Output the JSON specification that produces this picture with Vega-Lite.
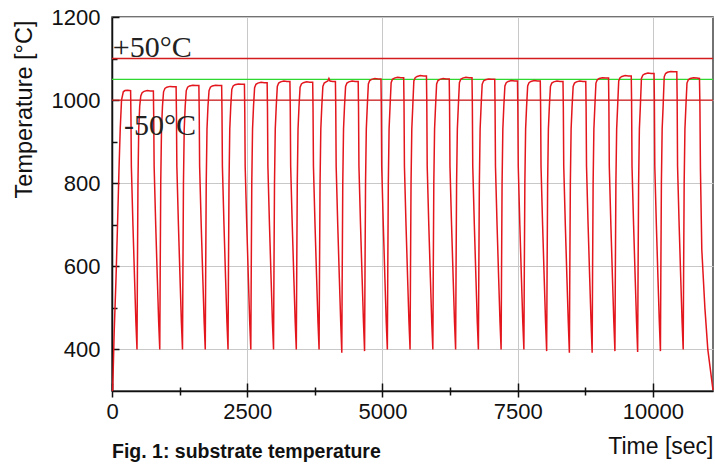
{
  "$schema": "https://vega.github.io/schema/vega-lite/v6.json",
  "width": 601,
  "height": 374,
  "autosize": {"type": "none"},
  "padding": {"left": 112, "top": 17, "right": 2, "bottom": 75},
  "background": "white",
  "config": {
    "view": {"stroke": "#444", "strokeWidth": 1.5},
    "font": "Liberation Sans"
  },
  "title": {
    "text": "Fig. 1: substrate temperature",
    "orient": "bottom",
    "anchor": "start",
    "frame": "group",
    "font": "Liberation Sans",
    "fontSize": 19.5,
    "fontWeight": "bold",
    "color": "#111",
    "offset": -15
  },
  "datasets": {
    "refs": [
      {"T": 1100, "kind": "limit"},
      {"T": 1000, "kind": "limit"},
      {"T": 1050, "kind": "target"}
    ],
    "labels": [
      {"t": 15, "T": 1104, "label": "+50°C"},
      {"t": 220, "T": 916, "label": "-50°C"}
    ],
    "temp": [
      {"t":5,"T":300},{"t":13,"T":302},{"t":40,"T":440},{"t":74,"T":570},{"t":100,"T":690},{"t":129,"T":832},{"t":152,"T":930},{"t":176,"T":1000},{"t":209,"T":1020},{"t":240,"T":1023},{"t":290,"T":1024},{"t":344,"T":1023},{"t":350,"T":963},{"t":358,"T":840},{"t":387,"T":700},{"t":417,"T":570},{"t":442,"T":465},{"t":462,"T":400},
      {"t":470,"T":590},{"t":480,"T":800},{"t":494,"T":930},{"t":512,"T":985},{"t":532,"T":1010},{"t":557,"T":1018},{"t":592,"T":1021},{"t":652,"T":1023},{"t":712,"T":1022},{"t":765,"T":1022},{"t":771,"T":962},{"t":779,"T":840},{"t":808,"T":700},{"t":838,"T":570},{"t":863,"T":465},{"t":883,"T":400},
      {"t":891,"T":590},{"t":901,"T":800},{"t":915,"T":930},{"t":933,"T":985},{"t":953,"T":1020},{"t":978,"T":1028},{"t":1013,"T":1031},{"t":1073,"T":1033},{"t":1133,"T":1032},{"t":1185,"T":1032},{"t":1191,"T":972},{"t":1199,"T":840},{"t":1228,"T":700},{"t":1258,"T":570},{"t":1283,"T":465},{"t":1303,"T":400},
      {"t":1311,"T":590},{"t":1321,"T":800},{"t":1335,"T":930},{"t":1353,"T":985},{"t":1373,"T":1023},{"t":1398,"T":1031},{"t":1433,"T":1034},{"t":1493,"T":1036},{"t":1553,"T":1035},{"t":1606,"T":1035},{"t":1612,"T":975},{"t":1620,"T":840},{"t":1649,"T":700},{"t":1679,"T":570},{"t":1704,"T":465},{"t":1724,"T":400},
      {"t":1732,"T":590},{"t":1742,"T":800},{"t":1756,"T":930},{"t":1774,"T":985},{"t":1794,"T":1023},{"t":1819,"T":1031},{"t":1854,"T":1034},{"t":1914,"T":1036},{"t":1974,"T":1035},{"t":2027,"T":1035},{"t":2033,"T":975},{"t":2041,"T":840},{"t":2070,"T":700},{"t":2100,"T":570},{"t":2125,"T":465},{"t":2145,"T":400},
      {"t":2153,"T":590},{"t":2163,"T":800},{"t":2177,"T":930},{"t":2195,"T":985},{"t":2215,"T":1026},{"t":2240,"T":1034},{"t":2275,"T":1037},{"t":2335,"T":1039},{"t":2395,"T":1038},{"t":2448,"T":1038},{"t":2454,"T":978},{"t":2462,"T":840},{"t":2491,"T":700},{"t":2521,"T":570},{"t":2546,"T":465},{"t":2566,"T":400},
      {"t":2574,"T":590},{"t":2584,"T":800},{"t":2598,"T":930},{"t":2616,"T":985},{"t":2636,"T":1030},{"t":2661,"T":1038},{"t":2696,"T":1041},{"t":2756,"T":1043},{"t":2816,"T":1042},{"t":2868,"T":1042},{"t":2874,"T":982},{"t":2882,"T":840},{"t":2911,"T":700},{"t":2941,"T":570},{"t":2966,"T":465},{"t":2986,"T":400},
      {"t":2994,"T":590},{"t":3004,"T":800},{"t":3018,"T":930},{"t":3036,"T":985},{"t":3056,"T":1033},{"t":3081,"T":1041},{"t":3116,"T":1044},{"t":3176,"T":1046},{"t":3236,"T":1045},{"t":3289,"T":1045},{"t":3295,"T":985},{"t":3303,"T":840},{"t":3332,"T":700},{"t":3362,"T":570},{"t":3387,"T":465},{"t":3407,"T":400},
      {"t":3415,"T":590},{"t":3425,"T":800},{"t":3439,"T":930},{"t":3457,"T":985},{"t":3477,"T":1031},{"t":3502,"T":1039},{"t":3537,"T":1042},{"t":3597,"T":1044},{"t":3657,"T":1043},{"t":3710,"T":1043},{"t":3716,"T":983},{"t":3724,"T":840},{"t":3753,"T":700},{"t":3783,"T":570},{"t":3808,"T":465},{"t":3828,"T":400},
      {"t":3836,"T":590},{"t":3846,"T":800},{"t":3860,"T":930},{"t":3878,"T":985},{"t":3898,"T":1033},{"t":3923,"T":1041},{"t":3958,"T":1044},{"t":3990,"T":1046},{"t":4010,"T":1052},{"t":4030,"T":1046},{"t":4080,"T":1045},{"t":4130,"T":1045},{"t":4136,"T":985},{"t":4144,"T":840},{"t":4173,"T":700},{"t":4203,"T":570},{"t":4228,"T":465},{"t":4248,"T":392},
      {"t":4256,"T":590},{"t":4266,"T":800},{"t":4280,"T":930},{"t":4298,"T":985},{"t":4318,"T":1033},{"t":4343,"T":1041},{"t":4378,"T":1044},{"t":4438,"T":1046},{"t":4498,"T":1045},{"t":4551,"T":1045},{"t":4557,"T":985},{"t":4565,"T":840},{"t":4594,"T":700},{"t":4624,"T":570},{"t":4649,"T":465},{"t":4669,"T":396},
      {"t":4677,"T":590},{"t":4687,"T":800},{"t":4701,"T":930},{"t":4719,"T":985},{"t":4739,"T":1039},{"t":4764,"T":1047},{"t":4799,"T":1050},{"t":4859,"T":1052},{"t":4919,"T":1051},{"t":4972,"T":1051},{"t":4978,"T":991},{"t":4986,"T":840},{"t":5015,"T":700},{"t":5045,"T":570},{"t":5070,"T":465},{"t":5090,"T":400},
      {"t":5098,"T":590},{"t":5108,"T":800},{"t":5122,"T":930},{"t":5140,"T":985},{"t":5160,"T":1042},{"t":5185,"T":1050},{"t":5220,"T":1053},{"t":5280,"T":1055},{"t":5340,"T":1054},{"t":5392,"T":1054},{"t":5398,"T":994},{"t":5406,"T":840},{"t":5435,"T":700},{"t":5465,"T":570},{"t":5490,"T":465},{"t":5510,"T":400},
      {"t":5518,"T":590},{"t":5528,"T":800},{"t":5542,"T":930},{"t":5560,"T":985},{"t":5580,"T":1046},{"t":5605,"T":1054},{"t":5640,"T":1057},{"t":5700,"T":1059},{"t":5760,"T":1058},{"t":5813,"T":1058},{"t":5819,"T":998},{"t":5827,"T":840},{"t":5856,"T":700},{"t":5886,"T":570},{"t":5911,"T":465},{"t":5931,"T":400},
      {"t":5939,"T":590},{"t":5949,"T":800},{"t":5963,"T":930},{"t":5981,"T":985},{"t":6001,"T":1039},{"t":6026,"T":1047},{"t":6061,"T":1050},{"t":6121,"T":1052},{"t":6181,"T":1051},{"t":6234,"T":1051},{"t":6240,"T":991},{"t":6248,"T":840},{"t":6277,"T":700},{"t":6307,"T":570},{"t":6332,"T":465},{"t":6352,"T":400},
      {"t":6360,"T":590},{"t":6370,"T":800},{"t":6384,"T":930},{"t":6402,"T":985},{"t":6422,"T":1042},{"t":6447,"T":1050},{"t":6482,"T":1053},{"t":6542,"T":1055},{"t":6602,"T":1054},{"t":6655,"T":1054},{"t":6661,"T":994},{"t":6669,"T":840},{"t":6698,"T":700},{"t":6728,"T":570},{"t":6753,"T":465},{"t":6773,"T":400},
      {"t":6781,"T":590},{"t":6791,"T":800},{"t":6805,"T":930},{"t":6823,"T":985},{"t":6843,"T":1038},{"t":6868,"T":1046},{"t":6903,"T":1049},{"t":6963,"T":1051},{"t":7023,"T":1050},{"t":7075,"T":1050},{"t":7081,"T":990},{"t":7089,"T":840},{"t":7118,"T":700},{"t":7148,"T":570},{"t":7173,"T":465},{"t":7193,"T":400},
      {"t":7201,"T":590},{"t":7211,"T":800},{"t":7225,"T":930},{"t":7243,"T":985},{"t":7263,"T":1034},{"t":7288,"T":1042},{"t":7323,"T":1045},{"t":7383,"T":1047},{"t":7443,"T":1046},{"t":7496,"T":1046},{"t":7502,"T":986},{"t":7510,"T":840},{"t":7539,"T":700},{"t":7569,"T":570},{"t":7594,"T":465},{"t":7614,"T":400},
      {"t":7622,"T":590},{"t":7632,"T":800},{"t":7646,"T":930},{"t":7664,"T":985},{"t":7684,"T":1034},{"t":7709,"T":1042},{"t":7744,"T":1045},{"t":7804,"T":1047},{"t":7864,"T":1046},{"t":7917,"T":1046},{"t":7923,"T":986},{"t":7931,"T":840},{"t":7960,"T":700},{"t":7990,"T":570},{"t":8015,"T":465},{"t":8035,"T":396},
      {"t":8043,"T":590},{"t":8053,"T":800},{"t":8067,"T":930},{"t":8085,"T":985},{"t":8105,"T":1033},{"t":8130,"T":1041},{"t":8165,"T":1044},{"t":8225,"T":1046},{"t":8285,"T":1045},{"t":8337,"T":1045},{"t":8343,"T":985},{"t":8351,"T":840},{"t":8380,"T":700},{"t":8410,"T":570},{"t":8435,"T":465},{"t":8455,"T":392},
      {"t":8463,"T":590},{"t":8473,"T":800},{"t":8487,"T":930},{"t":8505,"T":985},{"t":8525,"T":1033},{"t":8550,"T":1041},{"t":8585,"T":1044},{"t":8645,"T":1046},{"t":8705,"T":1045},{"t":8758,"T":1045},{"t":8764,"T":985},{"t":8772,"T":840},{"t":8801,"T":700},{"t":8831,"T":570},{"t":8856,"T":465},{"t":8876,"T":392},
      {"t":8884,"T":590},{"t":8894,"T":800},{"t":8908,"T":930},{"t":8926,"T":985},{"t":8946,"T":1041},{"t":8971,"T":1049},{"t":9006,"T":1052},{"t":9066,"T":1054},{"t":9126,"T":1053},{"t":9179,"T":1053},{"t":9185,"T":993},{"t":9193,"T":840},{"t":9222,"T":700},{"t":9252,"T":570},{"t":9277,"T":465},{"t":9297,"T":396},
      {"t":9305,"T":590},{"t":9315,"T":800},{"t":9329,"T":930},{"t":9347,"T":985},{"t":9367,"T":1046},{"t":9392,"T":1054},{"t":9427,"T":1057},{"t":9487,"T":1059},{"t":9547,"T":1058},{"t":9599,"T":1058},{"t":9605,"T":998},{"t":9613,"T":840},{"t":9642,"T":700},{"t":9672,"T":570},{"t":9697,"T":465},{"t":9717,"T":394},
      {"t":9725,"T":590},{"t":9735,"T":800},{"t":9749,"T":930},{"t":9767,"T":985},{"t":9787,"T":1052},{"t":9812,"T":1060},{"t":9847,"T":1063},{"t":9907,"T":1065},{"t":9967,"T":1064},{"t":10020,"T":1064},{"t":10026,"T":1004},{"t":10034,"T":840},{"t":10063,"T":700},{"t":10093,"T":570},{"t":10118,"T":465},{"t":10138,"T":396},
      {"t":10146,"T":590},{"t":10156,"T":800},{"t":10170,"T":930},{"t":10188,"T":985},{"t":10208,"T":1056},{"t":10233,"T":1064},{"t":10268,"T":1067},{"t":10328,"T":1069},{"t":10388,"T":1068},{"t":10441,"T":1068},{"t":10447,"T":1008},{"t":10455,"T":840},{"t":10484,"T":700},{"t":10514,"T":570},{"t":10539,"T":465},{"t":10559,"T":400},
      {"t":10567,"T":590},{"t":10577,"T":800},{"t":10591,"T":930},{"t":10609,"T":985},{"t":10629,"T":1041},{"t":10654,"T":1049},{"t":10689,"T":1052},{"t":10749,"T":1054},{"t":10809,"T":1053},{"t":10860,"T":1052},{"t":10868,"T":990},{"t":10878,"T":832},{"t":10903,"T":640},{"t":10960,"T":500},{"t":11014,"T":400},{"t":11110,"T":302}
    ]
  },
  "resolve": {"axis": {"x": "independent"}},
  "layer": [
    {
      "data": {"name": "refs"},
      "mark": {"type": "rule", "strokeWidth": 1.4},
      "encoding": {
        "y": {
          "field": "T", "type": "quantitative",
          "scale": {"domain": [300, 1200], "nice": false, "zero": false},
          "axis": {
            "values": [400, 500, 600, 700, 800, 900, 1000, 1100, 1200],
            "format": "d",
            "labelExpr": "datum.value % 200 === 0 ? datum.label : ''",
            "labelFontSize": 22,
            "labelColor": "#111",
            "labelFont": "Liberation Sans",
            "labelPadding": 19,
            "labelFlush": false,
            "tickSize": {"condition": {"test": "datum.value % 200 !== 0", "value": -5}, "value": -7},
            "tickColor": "#111",
            "tickWidth": 1.5,
            "domainColor": "#111",
            "domainWidth": 1.5,
            "grid": true,
            "gridColor": "#c8c8c8",
            "gridWidth": 1,
            "gridOpacity": {"condition": {"test": "datum.value % 200 !== 0", "value": 0}, "value": 1},
            "title": "Temperature [°C]",
            "titleFont": "Liberation Sans",
            "titleFontSize": 23.5,
            "titleFontWeight": "normal",
            "titleColor": "#111",
            "titleAngle": -90,
            "titleX": -81,
            "titleY": 3,
            "titleAlign": "right",
            "titleBaseline": "alphabetic"
          }
        },
        "color": {"field": "kind", "type": "nominal", "scale": {"domain": ["limit", "target"], "range": ["#d41c1c", "#2ed82e"]}, "legend": null}
      }
    },
    {
      "data": {"name": "temp"},
      "mark": {"type": "line", "color": "#e3161d", "strokeWidth": 1.5},
      "encoding": {
        "x": {
          "field": "t", "type": "quantitative",
          "scale": {"domain": [0, 11110], "nice": false, "zero": false},
          "axis": {
            "orient": "bottom",
            "values": [0, 1250, 2500, 3750, 5000, 6250, 7500, 8750, 10000],
            "format": "d",
            "labelExpr": "datum.value % 2500 === 0 ? datum.label : ''",
            "labelFlush": false,
            "labelFontSize": 22,
            "labelColor": "#111",
            "labelPadding": 4,
            "labelFont": "Liberation Sans",
            "tickSize": {"condition": {"test": "datum.value % 2500 !== 0", "value": 4}, "value": 6},
            "tickColor": "#111",
            "tickWidth": 1.5,
            "domainColor": "#111",
            "domainWidth": 1.5,
            "grid": true,
            "gridColor": "#c8c8c8",
            "gridWidth": 1,
            "gridOpacity": {"condition": {"test": "datum.value % 2500 !== 0", "value": 0}, "value": 1},
            "title": "Time [sec]",
            "titleFont": "Liberation Sans",
            "titleFontSize": 23,
            "titleFontWeight": "normal",
            "titleColor": "#111",
            "titleX": 601,
            "titleY": 62,
            "titleAlign": "right",
            "titleBaseline": "alphabetic",
            "titleAngle": 0
          }
        },
        "y": {
          "field": "T", "type": "quantitative",
          "scale": {"domain": [300, 1200], "nice": false, "zero": false}
        }
      }
    },
    {
      "data": {"name": "labels"},
      "mark": {"type": "text", "font": "Liberation Serif", "fontSize": 30, "align": "left", "baseline": "alphabetic", "color": "#222"},
      "encoding": {
        "x": {
          "field": "t", "type": "quantitative",
          "scale": {"domain": [0, 11110], "nice": false, "zero": false},
          "axis": {
            "orient": "bottom",
            "values": [0, 1250, 2500, 3750, 5000, 6250, 7500, 8750, 10000],
            "labels": false,
            "domain": false,
            "grid": false,
            "tickSize": {"condition": {"test": "datum.value % 2500 !== 0", "value": -4}, "value": -8},
            "tickColor": "#111",
            "tickWidth": 1.5,
            "title": null
          }
        },
        "y": {"field": "T", "type": "quantitative", "scale": {"domain": [300, 1200], "nice": false, "zero": false}},
        "text": {"field": "label"}
      }
    }
  ]
}
